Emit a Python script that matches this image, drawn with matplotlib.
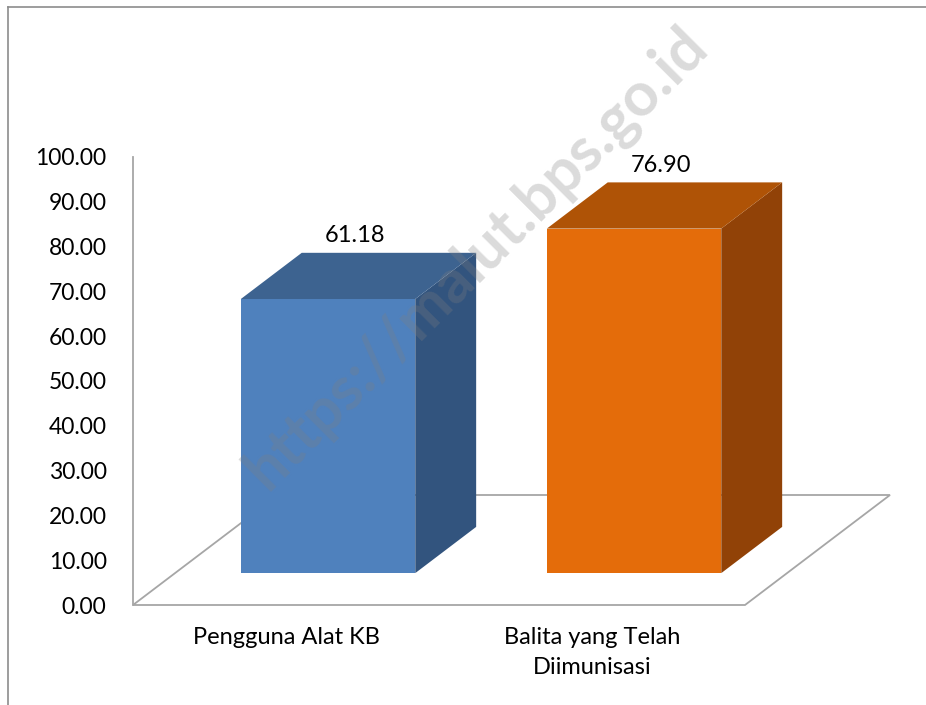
import numpy as np
import matplotlib.pyplot as plt
from matplotlib.patches import Polygon
from matplotlib.lines import Line2D

# Data
categories = ["Pengguna Alat KB", "Balita yang Telah\nDiimunisasi"]
values = [61.18, 76.90]
yticks = np.arange(0, 101, 10)

# Colours (front, side, top)
front_cols = ["#4F81BD", "#E46C0A"]
side_cols = ["#32547E", "#914207"]
top_cols = ["#3D6390", "#AF5306"]
grey = "#A6A6A6"

plt.rcParams['font.family'] = ['Lato', 'DejaVu Sans']

W, H = 926, 705
fig = plt.figure(figsize=(W / 100, H / 100), dpi=100)
# axes box = floor front edge (x) and value axis (y)
ax = fig.add_axes([133 / W, (H - 605) / H, 612 / W, 448 / H])
ax.set_xlim(0, len(categories))
ax.set_ylim(0, 100)
for s in ax.spines.values():
    s.set_visible(False)

# depth direction of the 3d floor, in data units
ddx = 145 / 306.0
ddy = 110 / 4.48
f_front, f_back = 0.29, 0.71   # bar depth inside floor
bw = 0.57                      # bar width (slot fraction)

# floor outline
n = len(categories)
floor = Polygon([(0, 0), (n, 0), (n + ddx, ddy), (ddx, ddy)], closed=True,
                fill=False, edgecolor=grey, lw=1.3, clip_on=False, zorder=1)
ax.add_patch(floor)
# value axis line
ax.plot([0, 0], [0, 100], color=grey, lw=1.3, clip_on=False, zorder=1)

for i, v in enumerate(values):
    c = i + 0.5
    x0 = c - bw / 2 + f_front * ddx
    x1 = c + bw / 2 + f_front * ddx
    y0 = f_front * ddy
    y1 = y0 + v
    ox = (f_back - f_front) * ddx
    oy = (f_back - f_front) * ddy
    front = Polygon([(x0, y0), (x1, y0), (x1, y1), (x0, y1)], closed=True,
                    facecolor=front_cols[i], edgecolor='none', clip_on=False, zorder=3)
    side = Polygon([(x1, y0), (x1 + ox, y0 + oy), (x1 + ox, y1 + oy), (x1, y1)], closed=True,
                   facecolor=side_cols[i], edgecolor='none', clip_on=False, zorder=3)
    top = Polygon([(x0, y1), (x1, y1), (x1 + ox, y1 + oy), (x0 + ox, y1 + oy)], closed=True,
                  facecolor=top_cols[i], edgecolor='none', clip_on=False, zorder=3)
    for p in (front, side, top):
        ax.add_patch(p)
    ax.text(c + 0.5 * ddx - 0.01, y1 + oy + 1.5, f"{v:.2f}", ha='center', va='bottom',
            fontsize=17, color='black', clip_on=False, zorder=5)

# y ticks
ax.set_yticks(yticks)
ax.set_yticklabels([f"{t:.2f}" for t in yticks], fontsize=16.5)
ax.tick_params(axis='y', length=0, pad=19)

# x ticks
ax.set_xticks(np.arange(n) + 0.5)
ax.set_xticklabels(categories, fontsize=17, linespacing=1.5)
ax.tick_params(axis='x', length=0, pad=16)

# watermark
fig.text(476 / W, 1 - 258 / H, "https://malut.bps.go.id", fontsize=44, fontweight='bold',
         color='#7F7F7F', alpha=0.28, rotation=45, ha='center', va='center', zorder=10)

# outer frame
fig.add_artist(Line2D([8 / W, 8 / W], [0, 1 - 7 / H], color='#8C8C8C', lw=1.2))
fig.add_artist(Line2D([8 / W, 1], [1 - 7 / H, 1 - 7 / H], color='#8C8C8C', lw=1.2))

fig.savefig("out.png", dpi=100)
